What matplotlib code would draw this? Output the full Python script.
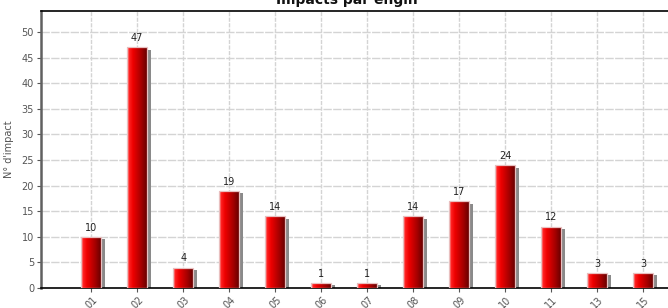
import numpy as np
import matplotlib.pyplot as plt
from matplotlib.colors import LinearSegmentedColormap

engins = ['01', '02', '03', '04', '05', '06', '07', '08', '09', '10', '11', '13', '15']
impacts = [10, 47, 4, 19, 14, 1, 1, 14, 17, 24, 12, 3, 3]

W, H = 668, 308
fig = plt.figure(figsize=(W / 100, H / 100), dpi=100)
ax = fig.add_axes([41 / W, 1 - 288 / H, 1 - 41 / W, (288 - 11) / H])

ind = np.arange(len(engins))
width = 0.42

# grid
for y in range(5, 55, 5):
    ax.axhline(y, color='#d4d4d4', lw=1.0, zorder=0, ls=(0, (6, 1)))
for x in ind:
    ax.axvline(x, color='#d4d4d4', lw=1.0, zorder=0, ls=(0, (3, 1)))

# shadows
ax.bar(ind + 0.085, np.array(impacts) - 0.5, width, bottom=0, color='#8a8a8a',
       zorder=2, lw=0)

# bars with horizontal gradient
cmap = LinearSegmentedColormap.from_list('red3d', [
    (0.0, '#ffb0b0'), (0.1, '#ff2020'), (0.3, '#ee0000'),
    (0.7, '#a80000'), (1.0, '#6a0000')])
grad = np.linspace(0, 1, 64).reshape(1, -1)
bars = ax.bar(ind, impacts, width, color='none', edgecolor='#e8c0c0', lw=0.9, zorder=4)
for bar in bars:
    x0 = bar.get_x()
    im = ax.imshow(grad, cmap=cmap, aspect='auto', zorder=3,
                   extent=(x0, x0 + bar.get_width(), 0, bar.get_height()),
                   interpolation='bilinear')
    im.set_clip_path(bar)
ax.set_xlim(-1.09, 12.54)
ax.set_ylim(0, 54.1)

for bar in bars:
    h = bar.get_height()
    ax.text(bar.get_x() + bar.get_width() / 2., h + 0.8, '%d' % h,
            ha='center', va='bottom', fontsize=7, color='#222222', zorder=5)

ax.set_xticks(ind)
ax.set_xticklabels(engins, rotation=45, fontsize=7, color='#555555')
ax.set_yticks(range(0, 55, 5))
ax.tick_params(axis='y', labelsize=7, labelcolor='#555555', length=3, color='#555555', pad=2)
ax.tick_params(axis='x', length=3, color='#555555', pad=2)

ax.spines['right'].set_visible(False)
ax.spines['left'].set_color('#606060')
ax.spines['left'].set_linewidth(1.8)
ax.spines['bottom'].set_linewidth(1.2)
ax.spines['top'].set_linewidth(1.2)

ax.set_ylabel("N° d'impact", fontsize=7, color='#555555')
ax.yaxis.set_label_coords(-27 / (W - 41), 0.5)

fig.text(347 / W, 1 - 4 / H, 'Impacts par engin', ha='center', va='baseline',
         fontsize=10, fontweight='bold', color='#111111')

fig.savefig('out.png', dpi=100)
